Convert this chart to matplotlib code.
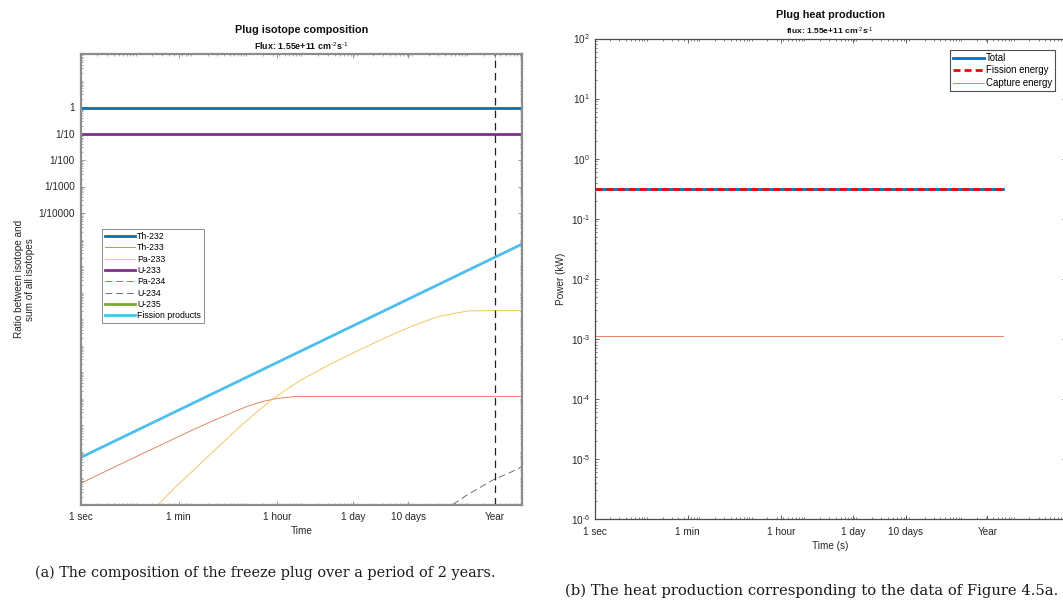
import numpy as np
import matplotlib.pyplot as plt
from matplotlib.ticker import FixedLocator, LogLocator, NullFormatter, FuncFormatter

plt.rcParams['font.family'] = ['Liberation Sans', 'DejaVu Sans']
plt.rcParams['mathtext.fontset'] = 'custom'
plt.rcParams['mathtext.rm'] = 'Liberation Sans'
plt.rcParams['mathtext.default'] = 'regular'
plt.rcParams['axes.unicode_minus'] = False

# =============================================================================
# data
# =============================================================================
# time marks on the x axis (s)
time_ticks = [1, 60, 3600, 86400, 864000, 3.156e7]
time_labels = ['1 sec', '1 min', '1 hour', '1 day', '10 days', 'Year']
year = 3.156e7

# plug composition, ratio of each isotope to the sum of all isotopes
t_flat = [1, 1e8]
th232 = [0.9, 0.9]
u233 = [0.1, 0.1]

t_th233 = [1, 10, 100, 300, 1000, 2000, 3600, 7200, 2e4, 1e8]
th233 = [6.3e-15, 6.3e-14, 6.1e-13, 1.7e-12, 4.9e-12, 7.8e-12, 1.0e-11,
         1.17e-11, 1.2e-11, 1.2e-11]

t_pa233 = [20, 50, 100, 300, 760, 1500, 2800, 5000, 1e4, 3e4, 1e5, 3e5,
           1e6, 3e6, 1e7, 3e7, 1e8]
pa233 = [6e-16, 4.1e-15, 1.6e-14, 1.4e-13, 8.5e-13, 2.9e-12, 8.4e-12,
         2.0e-11, 5.1e-11, 1.76e-10, 6.1e-10, 1.78e-9, 5.4e-9, 1.24e-8,
         2.0e-8, 2.1e-8, 2.1e-8]

t_u234 = [5.5e6, 1e7, 3.1e7, 5.6e7, 1e8]
u234 = [1e-15, 2.3e-15, 9e-15, 1.5e-14, 2.7e-14]

# Pa-234 and U-235 stay below 1e-15 over the whole period
t_pa234, pa234 = [], []
t_u235, u235 = [], []

t_fp = [1, 1e8]
fission_products = [5.9e-14, 6.8e-6]

# heat production (kW) over 2 years
t_heat = [1, 6.3e7]
total_power = [0.309, 0.309]
fission_power = [0.308, 0.308]
capture_power = [1.13e-3, 1.13e-3]

power_ticks = [1e-6, 1e-5, 1e-4, 1e-3, 1e-2, 1e-1, 1e0, 1e1, 1e2]

# =============================================================================
# figure
# =============================================================================
W, H = 1063, 601
fig = plt.figure(figsize=(W / 100, H / 100), dpi=100)


def px_axes(x0, y0, x1, y1):
    return fig.add_axes([x0 / W, 1 - y1 / H, (x1 - x0) / W, (y1 - y0) / H])


def style_axes(ax, spine_col, spine_lw):
    for s in ax.spines.values():
        s.set_color(spine_col)
        s.set_linewidth(spine_lw)
    ax.tick_params(which='both', direction='in', top=True, right=True,
                   color=spine_col, labelcolor='#262626', labelsize=7.2)
    ax.tick_params(which='major', length=3, width=0.6)
    ax.tick_params(which='minor', length=1.5, width=0.5)
    ax.xaxis.set_major_locator(FixedLocator(time_ticks))
    ax.set_xticklabels(time_labels)
    ax.xaxis.set_minor_locator(LogLocator(base=10, subs=np.arange(1, 10), numticks=30))
    ax.xaxis.set_minor_formatter(NullFormatter())
    ax.yaxis.set_minor_locator(LogLocator(base=10, subs=np.arange(1, 10), numticks=40))
    ax.yaxis.set_minor_formatter(NullFormatter())


def decade_label(v, pos):
    e = int(round(np.log10(v)))
    return r'$10^{\text{%d}}$' % e


flux_text = r'1.55e+11 cm$^{\text{-2}}$s$^{\text{-1}}$'

# ---------------- isotope composition ----------------
ax1 = px_axes(80.5, 54, 522.4, 504.5)
ax1.set_xscale('log')
ax1.set_yscale('log')

thin = dict(lw=0.7, alpha=0.7)
ax1.plot(t_flat, th232, color='#0072BD', lw=2, label='Th-232')
ax1.plot(t_th233, th233, color='#D95319', label='Th-233', **thin)
ax1.plot(t_pa233, pa233, color='#EDB120', label='Pa-233', **thin)
ax1.plot(t_flat, u233, color='#7E2F8E', lw=2, label='U-233')
ax1.plot(t_pa234, pa234, color='#ff0000', ls=(0, (7, 4)), label='Pa-234', **thin)
ax1.plot(t_u234, u234, color='#333333', ls=(0, (7, 4)), label='U-234', **thin)
ax1.plot(t_u235, u235, color='#77AC30', lw=2, label='U-235')
ax1.plot(t_fp, fission_products, color='#4DBEEE', lw=2, label='Fission products')
ax1.axvline(year, color='#222222', lw=0.9, ls=(0, (6, 4)))

ax1.set_xlim(1, 1e8)
ax1.set_ylim(1e-15, 1e2)
style_axes(ax1, '#8c8c8c', 1.6)
ax1.yaxis.set_major_locator(FixedLocator([1, 1e-1, 1e-2, 1e-3, 1e-4]))
ax1.set_yticklabels(['1', '1/10', '1/100', '1/1000', '1/10000'])
ax1.tick_params(axis='x', pad=5.4)
ax1.tick_params(axis='y', pad=4)

ax1.set_xlabel('Time', fontsize=7.2, color='#262626')
ax1.xaxis.set_label_coords(0.5, -0.047)
ax1.set_ylabel('Ratio between isotope and\nsum of all isotopes', fontsize=7.2,
               color='#262626', linespacing=1.1)
ax1.yaxis.set_label_coords(-0.104, 0.5)

leg1 = ax1.legend(loc='upper left', bbox_to_anchor=(0.0477, 0.612), fontsize=6.3,
                  handlelength=3.5, handletextpad=0.2, labelspacing=0.27,
                  borderaxespad=0, borderpad=0.35, fancybox=False, framealpha=1)
leg1.get_frame().set_edgecolor('#8c8c8c')
leg1.get_frame().set_linewidth(0.7)

fig.text(301.3 / W, 1 - 30 / H, 'Plug isotope composition', ha='center', va='center',
         fontsize=7.8, fontweight='bold', color='#111111')
fig.text(301.3 / W, 1 - 46 / H, 'Flux: ' + flux_text, ha='center',
         va='center', fontsize=6.4, fontweight='bold', color='#111111')

# ---------------- heat production ----------------
ax2 = px_axes(594.5, 38.5, 1066, 519)
ax2.set_xscale('log')
ax2.set_yscale('log')

ax2.plot(t_heat, total_power, color='#0072BD', lw=2, label='Total')
ax2.plot(t_heat, fission_power, color='#ff0000', lw=2, ls=(0, (2.5, 1.5)),
         label='Fission energy')
ax2.plot(t_heat, capture_power, color='#D95319', label='Capture energy', **thin)

ax2.set_xlim(1, 1e9)
ax2.set_ylim(1e-6, 1e2)
style_axes(ax2, '#4d4d4d', 0.9)
ax2.yaxis.set_major_locator(FixedLocator(power_ticks))
ax2.yaxis.set_major_formatter(FuncFormatter(decade_label))
ax2.tick_params(axis='x', pad=5.8)
ax2.tick_params(axis='y', pad=3.2)

ax2.set_xlabel('Time (s)', fontsize=7.2, color='#262626')
ax2.xaxis.set_label_coords(0.5, -0.046)
ax2.set_ylabel('Power (kW)', fontsize=7.2, color='#262626')
ax2.yaxis.set_label_coords(-0.060, 0.5)

leg2 = ax2.legend(loc='upper right', bbox_to_anchor=(0.9767, 0.976), fontsize=6.9,
                  handlelength=3.2, handletextpad=0.2, labelspacing=0.26,
                  borderaxespad=0, borderpad=0.3, fancybox=False, framealpha=1)
leg2.get_frame().set_edgecolor('#4d4d4d')
leg2.get_frame().set_linewidth(0.8)

fig.text(830 / W, 1 - 14.7 / H, 'Plug heat production', ha='center', va='center',
         fontsize=7.8, fontweight='bold', color='#111111')
fig.text(830 / W, 1 - 31.7 / H, 'flux: ' + flux_text, ha='center',
         va='center', fontsize=6.1, fontweight='bold', color='#111111')

# ---------------- captions ----------------
fig.text(265 / W, 1 - 573 / H,
         '(a) The composition of the freeze plug over a period of 2 years.',
         ha='center', va='center', fontsize=10.4, family='DejaVu Serif', color='#1a1a1a')
fig.text(565 / W, 1 - 591 / H,
         '(b) The heat production corresponding to the data of Figure 4.5a.',
         ha='left', va='center', fontsize=10.6, family='DejaVu Serif', color='#1a1a1a')

fig.savefig('out.png', dpi=100)
